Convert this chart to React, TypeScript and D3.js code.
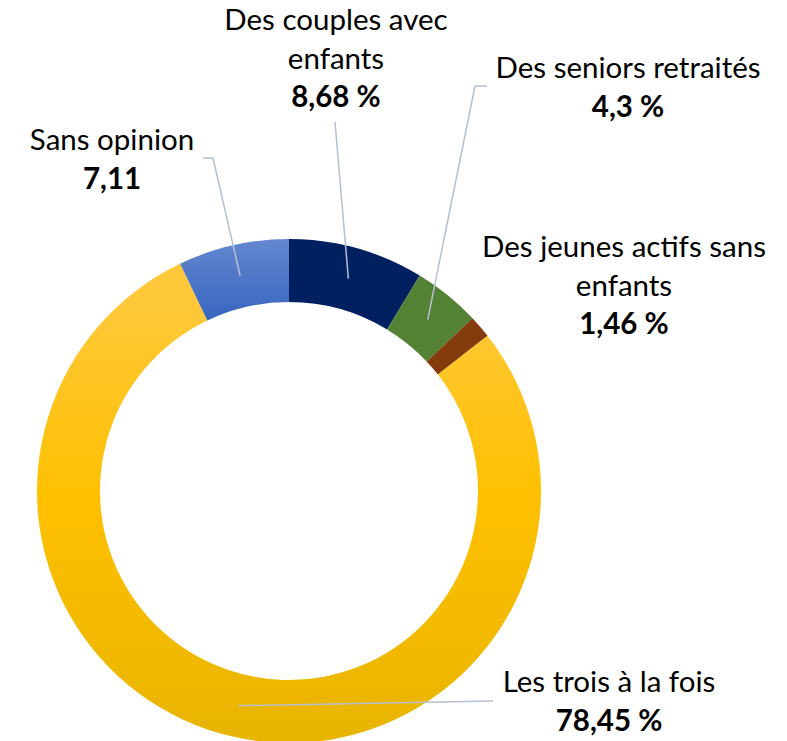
import { arc, pie } from 'd3';

const categories = [
  'Des couples avec enfants',
  'Des seniors retraités',
  'Des jeunes actifs sans enfants',
  'Les trois à la fois',
  'Sans opinion',
];
const shares = [8.68, 4.3, 1.46, 78.45, 7.11];
const valueLabels = ['8,68 %', '4,3 %', '1,46 %', '78,45 %', '7,11'];

// label layout: text lines, centre x, first baseline, leader elbow points
const labelLayout = [
  { lines: ['Des couples avec', 'enfants'], x: 336, y: 30, leader: [[335, 122]] },
  { lines: ['Des seniors retraités'], x: 628, y: 78, leader: [[487, 86], [475, 86]] },
  { lines: ['Des jeunes actifs sans', 'enfants'], x: 624, y: 257, leader: [] },
  { lines: ['Les trois à la fois'], x: 609, y: 692, leader: [[493, 701]] },
  { lines: ['Sans opinion'], x: 112, y: 150, leader: [[203, 158], [213, 158]] },
];

const fills = ['#002060', '#548235', '#843C0C', 'url(#gold)', 'url(#blue)'];

export default function App() {
  const width = 787;
  const height = 741;
  const cx = 289;
  const cy = 491;
  const outer = 252;
  const inner = 189;
  const lineH = 38.5;

  const slices = pie<number>().sort(null).value((d) => d)(shares);
  const arcGen = arc<any>().innerRadius(inner).outerRadius(outer);

  return (
    <div style={{ position: 'absolute', left: 0, top: 0 }}>
      <svg
        width={width}
        height={height}
        viewBox={`0 0 ${width} ${height}`}
        style={{ display: 'block', fontFamily: 'Lato, "Open Sans", sans-serif' }}
      >
        <defs>
          {/* gradients are in the translated space of the ring */}
          <linearGradient id="gold" gradientUnits="userSpaceOnUse" x1={0} y1={-outer + 60} x2={0} y2={outer}>
            <stop offset="0" stopColor="#FFC83A" />
            <stop offset="0.45" stopColor="#FFC000" />
            <stop offset="1" stopColor="#E8B400" />
          </linearGradient>
          <linearGradient id="blue" gradientUnits="userSpaceOnUse" x1={0} y1={-outer} x2={0} y2={-inner + 15}>
            <stop offset="0" stopColor="#6388CF" />
            <stop offset="1" stopColor="#3966C0" />
          </linearGradient>
        </defs>
        <g transform={`translate(${cx}, ${cy})`}>
          {slices.map((s, i) => (
            <path key={categories[i]} d={arcGen(s) || ''} fill={fills[i]} />
          ))}
        </g>
        {slices.map((s, i) => {
          const lay = labelLayout[i];
          if (lay.leader.length === 0) return null;
          const [mx, my] = arcGen.centroid(s);
          const pts = [...lay.leader, [cx + mx, cy + my]];
          return (
            <polyline
              key={`leader-${i}`}
              points={pts.map((p) => p.join(',')).join(' ')}
              fill="none"
              stroke="#B4C0D0"
              strokeWidth={1.5}
            />
          );
        })}
        {labelLayout.map((lay, i) => (
          <text key={`label-${i}`} x={lay.x} textAnchor="middle" fontSize={29.5} fill="#000">
            {lay.lines.map((line, j) => (
              <tspan key={j} x={lay.x} y={lay.y + j * lineH}>
                {line}
              </tspan>
            ))}
            <tspan x={lay.x} y={lay.y + lay.lines.length * lineH} fontWeight="bold">
              {valueLabels[i]}
            </tspan>
          </text>
        ))}
      </svg>
    </div>
  );
}
